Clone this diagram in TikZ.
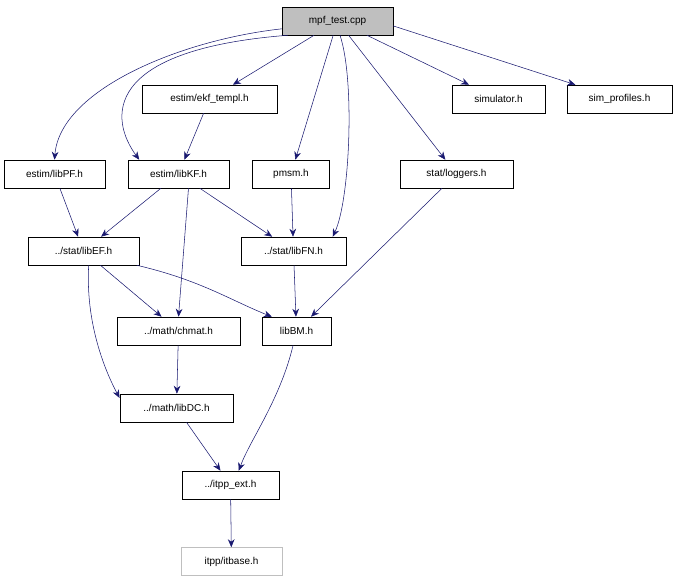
\documentclass[tikz,border=0pt]{standalone}
\usepackage{fontspec}
\setmainfont{Liberation Sans}
\usetikzlibrary{arrows.meta}
\begin{document}
\begin{tikzpicture}[x=0.75pt,y=-0.75pt,
 box/.style={draw,rectangle,inner sep=0pt,minimum height=21pt,font=\fontsize{7.5}{9}\selectfont},
 e/.style={draw={rgb,255:red,25;green,25;blue,112},-{Stealth[length=6pt,width=5pt]}}]
\useasboundingbox (0,0) rectangle (683,581);
\node[box,fill={rgb,255:red,191;green,191;blue,191},minimum width=83pt] (mpf) at (337.5,21) {mpf\_test.cpp};
\node[box,minimum width=101pt] (ekf) at (209.5,99) {estim/ekf\_templ.h};
\node[box,minimum width=70pt] (sim) at (498.5,99) {simulator.h};
\node[box,minimum width=79pt] (simp) at (619.5,99) {sim\_profiles.h};
\node[box,minimum width=76pt] (pf) at (54.5,174) {estim/libPF.h};
\node[box,minimum width=76pt] (kf) at (178.5,174) {estim/libKF.h};
\node[box,minimum width=58pt] (pmsm) at (291,174) {pmsm.h};
\node[box,minimum width=85pt] (log) at (456.5,174) {stat/loggers.h};
\node[box,minimum width=83pt] (ef) at (83.5,251) {../stat/libEF.h};
\node[box,minimum width=79pt] (fn) at (293.5,251) {../stat/libFN.h};
\node[box,minimum width=92pt] (chm) at (178.5,331) {../math/chmat.h};
\node[box,minimum width=52pt] (bm) at (296.5,331) {libBM.h};
\node[box,minimum width=85pt] (dc) at (176.5,408) {../math/libDC.h};
\node[box,minimum width=73pt] (ext) at (230.5,485) {../itpp\_ext.h};
\node[box,draw={rgb,255:red,191;green,191;blue,191},minimum width=76pt] (itb) at (231.5,561.5) {itpp/itbase.h};
\draw[e] (mpf.188) .. controls (180,40) and (60,90) .. (pf.north);
\draw[e] (mpf.196) .. controls (100,50) and (110,120) .. (kf.160);
\draw[e] (mpf) -- (ekf);
\draw[e] (mpf) -- (pmsm);
\draw[e] (mpf.-80) .. controls (355,80) and (350,200) .. (fn.20);
\draw[e] (mpf) -- (log);
\draw[e] (mpf) -- (sim);
\draw[e] (mpf.-5) -- (simp);
\draw[e] (ekf) -- (kf);
\draw[e] (pf) -- (ef);
\draw[e] (kf) -- (ef);
\draw[e] (kf.-55) -- (chm.north);
\draw[e] (kf) -- (fn);
\draw[e] (pmsm) -- (fn);
\draw[e] (log) -- (bm);
\draw[e] (ef) -- (chm);
\draw[e] (ef.-15) .. controls (200,280) and (230,300) .. (bm.150);
\draw[e] (ef.-70) .. controls (85,330) and (110,380) .. (dc.170);
\draw[e] (fn) -- (bm);
\draw[e] (chm) -- (dc);
\draw[e] (bm) .. controls (280,400) and (250,440) .. (ext.60);
\draw[e] (dc) -- (ext);
\draw[e] (ext) -- (itb);
\end{tikzpicture}
\end{document}
